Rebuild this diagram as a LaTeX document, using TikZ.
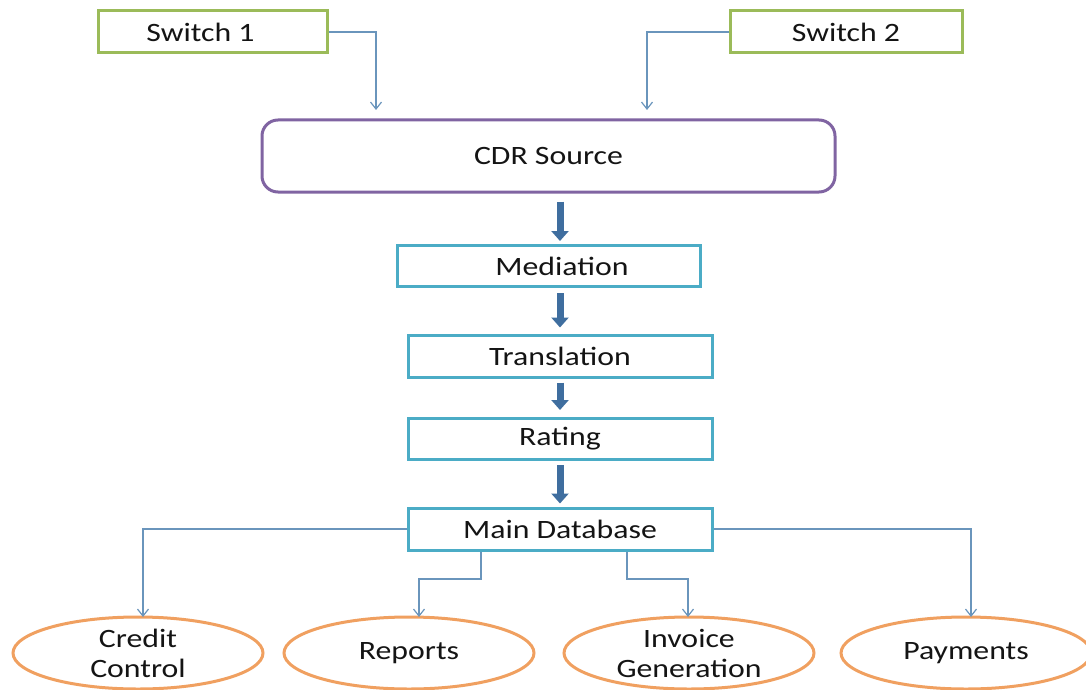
\documentclass[tikz,border=0pt]{standalone}
\usepackage{fontspec}
\setmainfont{Carlito}[FakeStretch=1.2]
\usetikzlibrary{arrows.meta,shapes.geometric}
\definecolor{swgreen}{HTML}{9BBB59}
\definecolor{cdrpurple}{HTML}{8064A2}
\definecolor{boxteal}{HTML}{4BACC6}
\definecolor{ellorange}{HTML}{F0A060}
\definecolor{connblue}{HTML}{6A95BC}
\definecolor{bigblue}{HTML}{3F6E9F}
\definecolor{txt}{HTML}{141414}
\begin{document}
\begin{tikzpicture}[x=1pt,y=-1pt,
  every node/.style={font=\fontsize{26.5}{30}\selectfont, text=txt, inner sep=0pt},
  swbox/.style={draw=swgreen, line width=3pt, fill=white, minimum height=42pt},
  cdrbox/.style={draw=cdrpurple, line width=3pt, rounded corners=16pt, minimum width=573pt, minimum height=72pt},
  stagebox/.style={draw=boxteal, line width=3pt, minimum width=304pt, minimum height=42pt},
  outell/.style={draw=ellorange, line width=3pt, ellipse, align=center, minimum width=250pt, minimum height=72pt},
  conn/.style={draw=connblue, line width=1.2pt, -{Straight Barb[length=7pt,width=11pt,line width=1.2pt]}},
  big/.style={draw=bigblue, line width=7pt, -{Triangle[length=10pt,width=17pt]}}
]
\useasboundingbox (0,0) rectangle (1086,690);

\node[swbox, minimum width=229pt] (sw1) at (212.5,32) {\kern-24pt Switch 1};
\node[swbox, minimum width=232pt] (sw2) at (846,32) {Switch 2};
\node[cdrbox] (cdr) at (548.5,156) {CDR Source};
\node[stagebox, minimum width=303pt, minimum height=41pt] (med) at (549,266) {\kern26pt Mediation};
\node[stagebox] (tra) at (560,356) {Translation};
\node[stagebox, minimum height=41pt] (rat) at (560,439) {Rating};
\node[stagebox] (mdb) at (560,529) {Main Database};

\node[outell] (cc) at (138,653) {Credit\\Control};
\node[outell] (rep) at (409,653) {Reports};
\node[outell] (inv) at (689,653) {Invoice\\Generation};
\node[outell] (pay) at (966,653) {Payments};

% switch connectors
\coordinate (s1t) at (376,110);
\coordinate (s2t) at (647,110);
\draw[conn] (sw1.east) -| (s1t);
\draw[conn] (sw2.west) -| (s2t);

% thick pipeline arrows
\coordinate (ax) at (560,0);
\draw[big] ([yshift=-8pt]cdr.south -| ax) -- ([yshift=3pt]med.north -| ax);
\draw[big] ([yshift=-5pt]med.south -| ax) -- ([yshift=6pt]tra.north -| ax);
\draw[big] ([yshift=-4pt]tra.south -| ax) -- ([yshift=7pt]rat.north -| ax);
\draw[big] ([yshift=-4pt]rat.south -| ax) -- ([yshift=3pt]mdb.north -| ax);

% output connectors
\coordinate (ccT) at (143,617);
\coordinate (repT) at (419,617);
\coordinate (invT) at (688,617);
\coordinate (payT) at (971,617);
\coordinate (b1) at (481,579);
\coordinate (b2) at (627,579);
\draw[conn] (mdb.west) -| (ccT);
\draw[conn] (b1 |- mdb.south) -- (b1) -| (repT);
\draw[conn] (b2 |- mdb.south) -- (b2) -| (invT);
\draw[conn] (mdb.east) -| (payT);
\end{tikzpicture}
\end{document}
